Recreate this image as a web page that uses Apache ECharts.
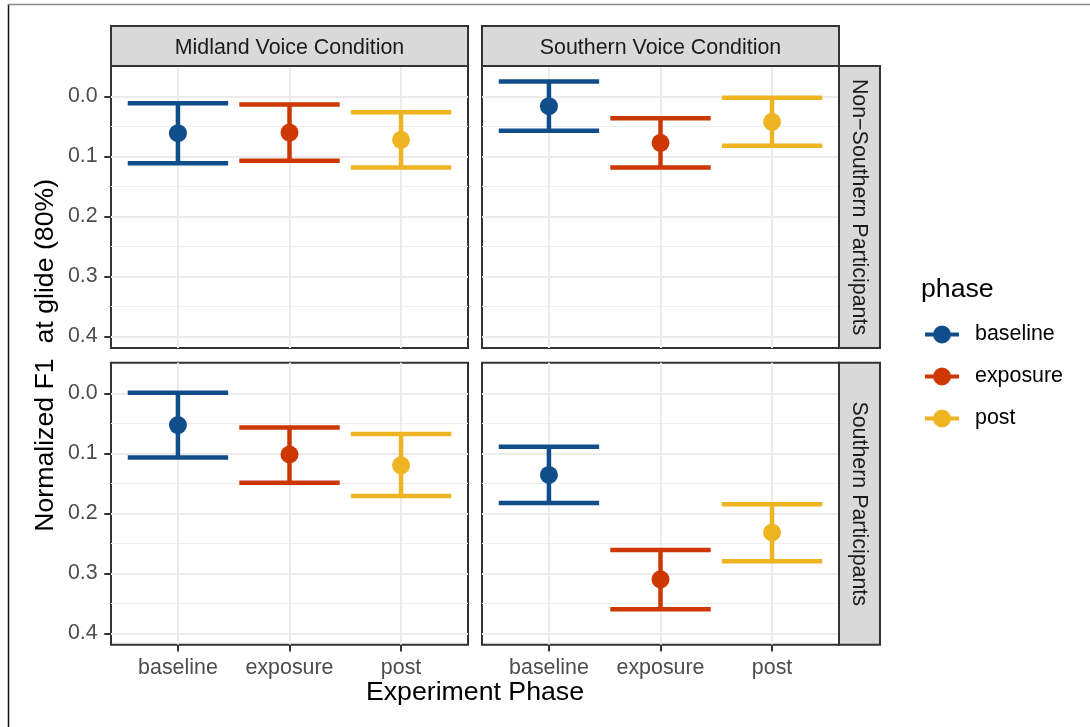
<!DOCTYPE html>
<html>
<head>
<meta charset="utf-8">
<script src="https://cdn.jsdelivr.net/npm/echarts@6/dist/echarts.min.js"></script>
<style>
html,body{margin:0;padding:0;background:#fff;}
#chart{width:1090px;height:727px;}
</style>
</head>
<body>
<div id="chart"></div>
<script>
// ---------------- data ----------------
const phases = ['baseline', 'exposure', 'post'];
const voiceConditions = ['Midland Voice Condition', 'Southern Voice Condition'];
const participantGroups = ['Non\u2212Southern Participants', 'Southern Participants'];
const yTickValues = [0, 0.1, 0.2, 0.3, 0.4];
const yMinorValues = [0.05, 0.15, 0.25, 0.35];
const xTickValues = [0, 1, 2];

// Midland voice / non-Southern participants
const midNonSouthMean  = [0.061, 0.060, 0.072];
const midNonSouthLower = [0.011, 0.013, 0.026];
const midNonSouthUpper = [0.111, 0.107, 0.118];
// Southern voice / non-Southern participants
const southNonSouthMean  = [0.016, 0.077, 0.042];
const southNonSouthLower = [-0.025, 0.036, 0.002];
const southNonSouthUpper = [0.057, 0.118, 0.082];
// Midland voice / Southern participants
const midSouthMean  = [0.053, 0.102, 0.120];
const midSouthLower = [-0.001, 0.057, 0.068];
const midSouthUpper = [0.107, 0.149, 0.171];
// Southern voice / Southern participants
const southSouthMean  = [0.136, 0.310, 0.232];
const southSouthLower = [0.089, 0.261, 0.185];
const southSouthUpper = [0.183, 0.360, 0.280];

// ---------------- styling / layout ----------------
const phaseColors = ['#104E8B', '#CD3700', '#EEB422'];
const FONT = '"Liberation Sans", Arial, Helvetica, sans-serif';
const panelW = 357, panelH = 282;
const colLeft = [111, 482];
const rowTop = [66, 362.7];
const stripSize = 40;
const yMin = -0.051, yMax = 0.419;
const xMin = -0.6, xMax = 2.6;
const capWidth = 0.9;

const panels = [
  {row: 0, col: 0, mean: midNonSouthMean, lower: midNonSouthLower, upper: midNonSouthUpper},
  {row: 0, col: 1, mean: southNonSouthMean, lower: southNonSouthLower, upper: southNonSouthUpper},
  {row: 1, col: 0, mean: midSouthMean, lower: midSouthLower, upper: midSouthUpper},
  {row: 1, col: 1, mean: southSouthMean, lower: southSouthLower, upper: southSouthUpper}
];

const grid = [], xAxis = [], yAxis = [], series = [];
panels.forEach((p, i) => {
  grid.push({
    left: colLeft[p.col], top: rowTop[p.row], width: panelW, height: panelH,
    show: true, backgroundColor: '#fff', borderColor: '#333333', borderWidth: 2
  });
  xAxis.push({
    type: 'value', gridIndex: i, min: xMin, max: xMax, position: 'bottom',
    axisLine: {show: false, onZero: false},
    axisTick: {show: p.row === 1, customValues: xTickValues, length: 6.7,
               lineStyle: {color: '#333333', width: 2}},
    axisLabel: {show: p.row === 1, customValues: xTickValues, margin: 13,
                formatter: v => phases[Math.round(v)],
                color: '#4D4D4D', fontSize: 21.4, fontFamily: FONT},
    splitLine: {show: true, lineStyle: {color: '#EBEBEB', width: 2}}
  });
  yAxis.push({
    type: 'value', gridIndex: i, inverse: true, min: yMin, max: yMax, position: 'left',
    axisLine: {show: false, onZero: false},
    axisTick: {show: p.col === 0, customValues: yTickValues, length: 6.7,
               lineStyle: {color: '#333333', width: 2}},
    axisLabel: {show: p.col === 0, customValues: yTickValues, margin: 13.3,
                formatter: v => v.toFixed(1), padding: [4, 0, 0, 0],
                color: '#4D4D4D', fontSize: 21.4, fontFamily: FONT},
    splitLine: {show: true, lineStyle: {color: '#EBEBEB', width: 2}},
    z: 1
  });
  yAxis.push({
    type: 'value', gridIndex: i, inverse: true, min: yMin, max: yMax, position: 'left',
    axisLine: {show: false, onZero: false},
    axisTick: {show: false, customValues: yMinorValues},
    axisLabel: {show: false, customValues: yMinorValues},
    splitLine: {show: true, lineStyle: {color: '#EFEFEF', width: 1}},
    z: 0
  });
  phases.forEach((ph, k) => {
    series.push({
      type: 'custom', name: ph, xAxisIndex: i, yAxisIndex: 2 * i,
      itemStyle: {color: phaseColors[k]},
      encode: {x: 0, y: [1, 2, 3]},
      data: [[k, p.lower[k], p.mean[k], p.upper[k]]],
      z: 5,
      renderItem: (params, api) => {
        const x = api.value(0);
        const pLo = api.coord([x, api.value(1)]);
        const pMid = api.coord([x, api.value(2)]);
        const pHi = api.coord([x, api.value(3)]);
        const half = api.size([capWidth, 0])[0] / 2;
        const color = api.visual('color');
        const ls = {stroke: color, lineWidth: 4.5, lineCap: 'butt'};
        return {
          type: 'group',
          children: [
            {type: 'line', shape: {x1: pLo[0], y1: pLo[1], x2: pHi[0], y2: pHi[1]}, style: ls},
            {type: 'line', shape: {x1: pLo[0] - half, y1: pLo[1], x2: pLo[0] + half, y2: pLo[1]}, style: ls},
            {type: 'line', shape: {x1: pHi[0] - half, y1: pHi[1], x2: pHi[0] + half, y2: pHi[1]}, style: ls},
            {type: 'circle', shape: {cx: pMid[0], cy: pMid[1], r: 9}, style: {fill: color}}
          ]
        };
      }
    });
  });
});

// strips and titles
const graphics = [];
voiceConditions.forEach((t, c) => {
  graphics.push({
    type: 'rect', z: 10,
    shape: {x: colLeft[c], y: rowTop[0] - stripSize, width: panelW, height: stripSize},
    style: {fill: '#D9D9D9', stroke: '#333333', lineWidth: 2}
  });
  graphics.push({
    type: 'text', z: 11, x: colLeft[c] + panelW / 2, y: rowTop[0] - stripSize / 2 + 2,
    style: {text: t, align: 'center', verticalAlign: 'middle', fill: '#1A1A1A',
            fontSize: 21.4, fontFamily: FONT}
  });
});
participantGroups.forEach((t, r) => {
  const sx = colLeft[1] + panelW;
  graphics.push({
    type: 'rect', z: 10,
    shape: {x: sx, y: rowTop[r], width: stripSize + 1, height: panelH},
    style: {fill: '#D9D9D9', stroke: '#333333', lineWidth: 2}
  });
  graphics.push({
    type: 'text', z: 11, x: sx + (stripSize + 1) / 2 - 1, y: rowTop[r] + panelH / 2, rotation: -Math.PI / 2,
    style: {text: t, align: 'center', verticalAlign: 'middle', fill: '#1A1A1A',
            fontSize: 21.4, fontFamily: FONT}
  });
});
graphics.push({
  type: 'text', z: 11, x: (colLeft[0] + colLeft[1] + panelW) / 2, y: 693,
  style: {text: 'Experiment Phase', align: 'center', verticalAlign: 'middle', fill: '#000',
          fontSize: 26.7, fontFamily: FONT}
});
graphics.push({
  type: 'text', z: 11, x: 46, y: (rowTop[0] + rowTop[1] + panelH) / 2, rotation: Math.PI / 2,
  style: {text: 'Normalized F1  at glide (80%)', align: 'center', verticalAlign: 'middle', fill: '#000',
          fontSize: 26.7, fontFamily: FONT}
});
graphics.push({
  type: 'text', z: 11, x: 921, y: 290,
  style: {text: 'phase', align: 'left', verticalAlign: 'middle', fill: '#000',
          fontSize: 26.7, fontFamily: FONT}
});
// outer frame (top and left edges)
graphics.push({type: 'line', z: 12, shape: {x1: 8.5, y1: 4, x2: 8.5, y2: 727}, style: {stroke: '#111', lineWidth: 1.5}});
graphics.push({type: 'line', z: 12, shape: {x1: 8, y1: 4.5, x2: 1090, y2: 4.5}, style: {stroke: '#888', lineWidth: 1.5}});

const legendIcon = 'path://M0,7 L34,7 L34,11 L0,11 Z M8,9 A9,9 0 1,1 26,9 A9,9 0 1,1 8,9 Z';

const option = {
  backgroundColor: '#fff',
  animation: false,
  grid, xAxis, yAxis, series,
  graphic: graphics,
  legend: {
    data: phases, orient: 'vertical', left: 925, top: 324, padding: 0,
    icon: legendIcon, itemWidth: 34, itemHeight: 18, itemGap: 21,
    textStyle: {fontSize: 21.4, color: '#000', fontFamily: FONT, padding: [0, 0, 0, 11]}
  }
};

const chart = echarts.init(document.getElementById('chart'), null, {renderer: 'canvas'});
chart.setOption(option);
</script>
</body>
</html>
